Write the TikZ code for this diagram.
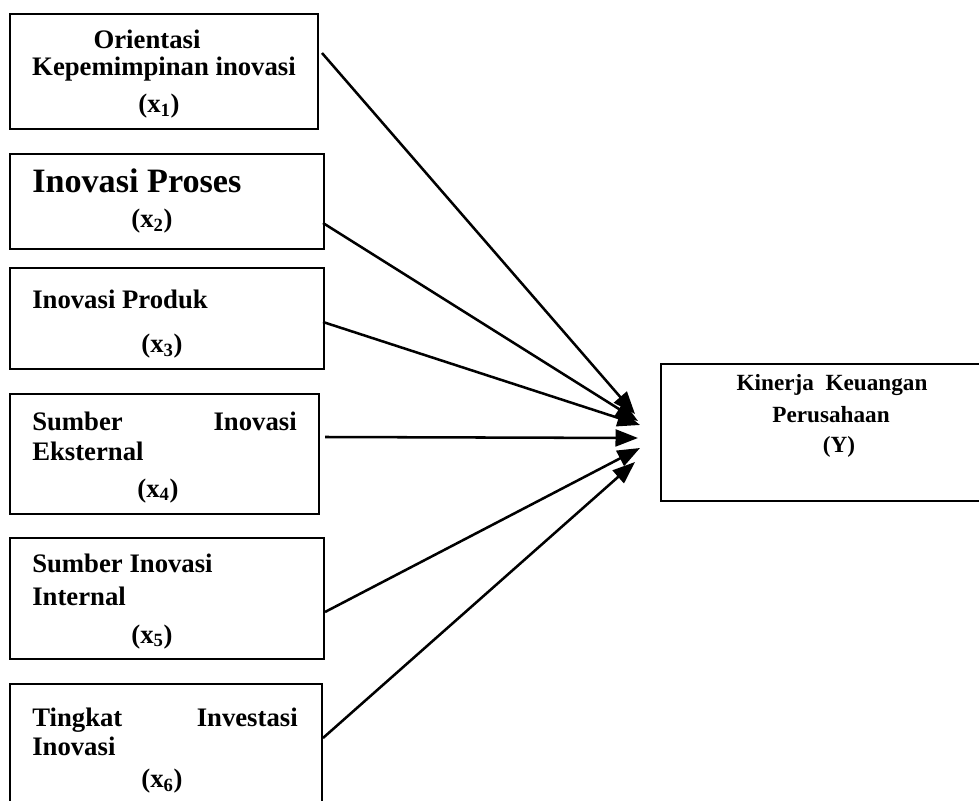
\documentclass[tikz,border=0pt]{standalone}
\usepackage{fontspec}
\setmainfont{Liberation Serif}
\usetikzlibrary{arrows.meta}

\tikzset{
    varbox/.style n args={2}{draw, line width=1.4pt, anchor=north west, inner sep=0pt,
        minimum width={#1*0.025cm}, minimum height={#2*0.025cm}},
    lbl/.style={font=\fontsize{19}{22}\selectfont\bfseries, inner sep=0pt, anchor=base},
    biglbl/.style={font=\fontsize{24.3}{28}\selectfont\bfseries, inner sep=0pt},
    ylbl/.style={font=\fontsize{16.5}{20}\selectfont\bfseries, inner sep=0pt, anchor=base},
    pengaruh/.style={line width=1.8pt, -{Triangle[length=16pt,width=12pt]}}
}

\begin{document}
\begin{tikzpicture}[x=0.025cm, y=-0.025cm]
    \clip (0,0) rectangle (979,801);
    \fill[white] (0,0) rectangle (979,801);

    % variabel bebas
    \node[varbox={308}{115}] (x1) at (9,13) {};
    \node[lbl] (x1a) at (147,49) {Orientasi};
    \node[lbl] (x1b) at (164,76) {Kepemimpinan inovasi};
    \node[lbl] (x1c) at (159,113) {(x\textsubscript{1})};

    \node[varbox={314}{95}] (x2) at (9,153) {};
    \node[biglbl, anchor=base west] (x2a) at (32,192) {Inovasi Proses};
    \node[lbl] (x2b) at (152,227) {(x\textsubscript{2})};

    \node[varbox={314}{101}] (x3) at (9,267) {};
    \node[lbl, anchor=base west] (x3a) at (32,308) {Inovasi Produk};
    \node[lbl] (x3b) at (162,352) {(x\textsubscript{3})};

    \node[varbox={309}{120}] (x4) at (9,393) {};
    \node[lbl, anchor=base west] (x4a) at (32,430) {Sumber};
    \node[lbl, anchor=base east] (x4b) at (297,430) {Inovasi};
    \node[lbl, anchor=base west] (x4c) at (32,460) {Eksternal};
    \node[lbl] (x4d) at (158,497) {(x\textsubscript{4})};

    \node[varbox={314}{121}] (x5) at (9,537) {};
    \node[lbl, anchor=base west] (x5a) at (32,572) {Sumber Inovasi};
    \node[lbl, anchor=base west] (x5b) at (32,605) {Internal};
    \node[lbl] (x5c) at (152,643) {(x\textsubscript{5})};

    \node[varbox={312}{130}] (x6) at (9,683) {};
    \node[lbl, anchor=base west] (x6a) at (32,726) {Tingkat};
    \node[lbl, anchor=base east] (x6b) at (298,726) {Investasi};
    \node[lbl, anchor=base west] (x6c) at (32,755) {Inovasi};
    \node[lbl] (x6d) at (162,787) {(x\textsubscript{6})};

    % variabel terikat
    \node[varbox={330}{137}] (y) at (660,363) {};
    \node[ylbl] (ya) at (832,390) {Kinerja\ \ Keuangan};
    \node[ylbl] (yb) at (831,422) {Perusahaan};
    \node[ylbl] (yc) at (839,452) {(Y)};

    % pangkal dan ujung panah
    \coordinate (s1) at (322,53);
    \coordinate (s2) at (323,223);
    \coordinate (s3) at (323,322);
    \coordinate (s4) at (325,437);
    \coordinate (s5) at (325,612);
    \coordinate (s6) at (323,738);

    \coordinate (t1) at (635,414);
    \coordinate (t2) at (638,421);
    \coordinate (t3) at (640,425);
    \coordinate (t4) at (638,438);
    \coordinate (t5) at (640,448);
    \coordinate (t6) at (635,462);

    \foreach \i in {1,...,6}
        \draw[pengaruh] (s\i) -- (t\i);
\end{tikzpicture}
\end{document}
